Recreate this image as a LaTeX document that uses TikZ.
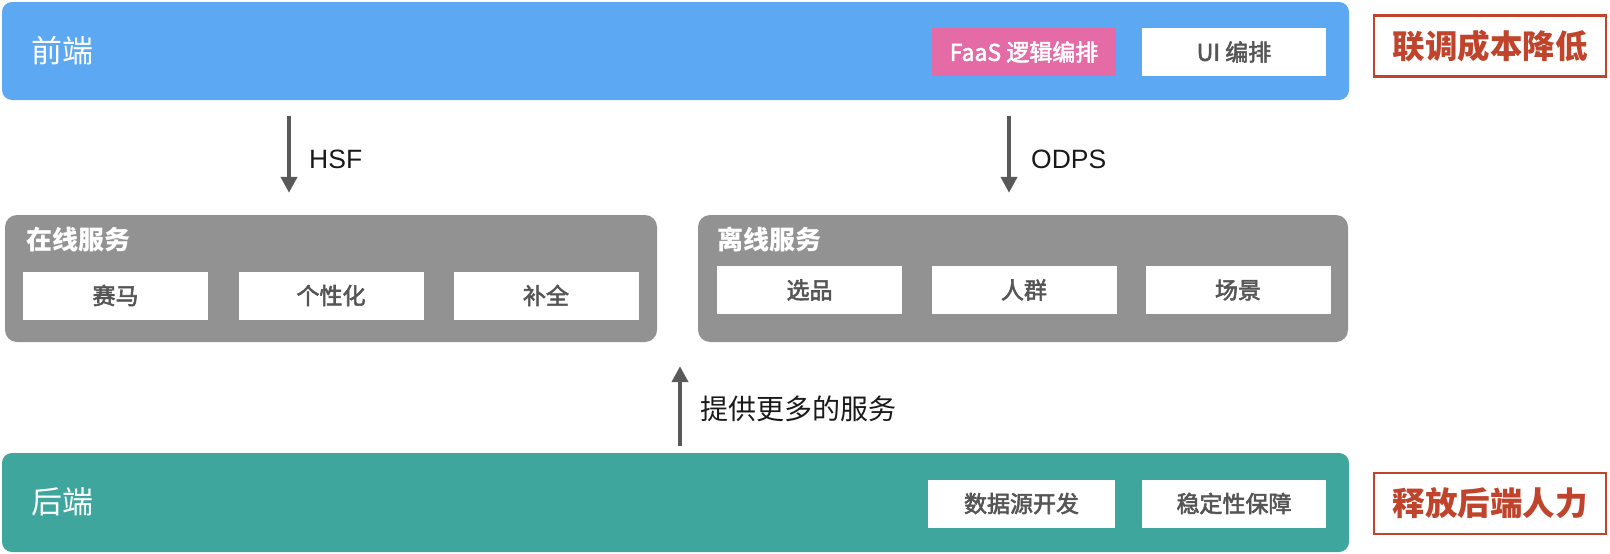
\documentclass[tikz,border=0pt]{standalone}
\usepackage{fontspec}
\setmainfont{Noto Sans CJK SC}
\newfontfamily\medfont{Noto Sans CJK SC}[FakeBold=2.5]
\newfontfamily\latinfont{Liberation Sans}
\usetikzlibrary{arrows.meta}
\definecolor{feblue}{HTML}{5DA8F2}
\definecolor{faaspink}{HTML}{E56BA6}
\definecolor{svcgray}{HTML}{929292}
\definecolor{beteal}{HTML}{3EA69D}
\definecolor{stampred}{HTML}{C0432B}
\definecolor{arrgray}{HTML}{595959}
\definecolor{itemtext}{HTML}{555555}
\newcommand{\fsz}[1]{\fontsize{#1}{#1}\selectfont}
\tikzset{
  layerbox/.style={rounded corners=10pt, inner sep=0pt, draw=none},
  svcbox/.style={rounded corners=12pt, fill=svcgray, inner sep=0pt, minimum height=127pt},
  itembox/.style={fill=white, inner sep=0pt, minimum width=185pt, minimum height=48pt, text=itemtext, font=\medfont\fsz{23}},
  layertitle/.style={anchor=west, text=white, inner sep=0pt, font=\fsz{31}},
  svctitle/.style={anchor=west, text=white, inner sep=0pt, font=\fsz{26}\bfseries},
  stampbox/.style={draw=stampred, line width=2.5pt, fill=white, inner sep=0pt, minimum width=232pt, minimum height=61pt, text=stampred, font=\fsz{32.5}\bfseries},
  arr/.style={draw=arrgray, line width=4pt, -{Triangle[width=16pt,length=16pt]}},
  lbl/.style={anchor=west, inner sep=0pt, text=black!90, font=\latinfont\fsz{26.5}}
}
\begin{document}
\begin{tikzpicture}[x=1pt,y=-1pt]
\useasboundingbox (0,0) rectangle (1610,554);
% front end layer
\node[layerbox, fill=feblue, minimum width=1347pt, minimum height=98pt] (fe) at (675.5,51) {};
\node[layertitle] (fet) at (31,51) {前端};
\node[fill=faaspink, inner sep=0pt, minimum width=184pt, minimum height=48pt, text=white, font=\medfont\fsz{23}] (faas) at (1024,52) {FaaS 逻辑编排};
\node[itembox, minimum width=184pt] (ui) at (1234,52) {UI 编排};
\node[stampbox] (st1) at (1490,46) {联调成本降低};
% online services
\node[svcbox, minimum width=652pt] (on) at (331,278.5) {};
\node[svctitle] (ont) at (26,240) {在线服务};
\node[itembox] (sm) at (115.5,295.5) {赛马};
\node[itembox] (gx) at (331,295.5) {个性化};
\node[itembox] (bq) at (546,295.5) {补全};
% offline services
\node[svcbox, minimum width=650pt] (off) at (1023,278.5) {};
\node[svctitle] (offt) at (717,240) {离线服务};
\node[itembox] (xp) at (809.5,290) {选品};
\node[itembox] (rq) at (1024,290) {人群};
\node[itembox] (cj) at (1238,290) {场景};
% back end layer
\node[layerbox, fill=beteal, minimum width=1347pt, minimum height=99pt] (be) at (675.5,502.5) {};
\node[layertitle] (bet) at (31,502) {后端};
\node[itembox, minimum width=187pt] (sj) at (1021.5,503.5) {数据源开发};
\node[itembox, minimum width=184pt] (wd) at (1234,503.5) {稳定性保障};
\node[stampbox] (st2) at (1490,503.5) {释放后端人力};
% arrows
\coordinate (hx) at (289,0);
\coordinate (ox) at (1009,0);
\coordinate (ux) at (680,0);
\draw[arr, shorten <=16pt, shorten >=22pt] (fe.south -| hx) -- (on.north -| hx);
\node[lbl] (hsf) at (309,159) {HSF};
\draw[arr, shorten <=16pt, shorten >=22pt] (fe.south -| ox) -- (off.north -| ox);
\node[lbl] (odps) at (1031,159) {ODPS};
\draw[arr, shorten <=7pt, shorten >=24pt] (be.north -| ux) -- (on.south -| ux);
\node[anchor=west, inner sep=0pt, text=black!90, font=\fsz{28}] (more) at (700,409) {提供更多的服务};
\end{tikzpicture}
\end{document}
